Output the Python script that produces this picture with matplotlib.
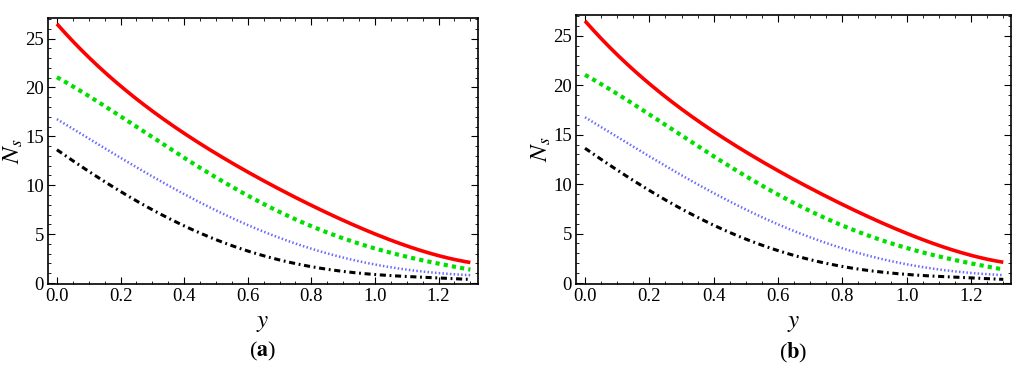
import numpy as np
import matplotlib.pyplot as plt
from matplotlib.ticker import MultipleLocator

plt.rcParams["font.family"] = ["Liberation Serif", "DejaVu Serif"]
plt.rcParams["mathtext.fontset"] = "stix"

# Values (both panels look the same)
y_vals = [0.0, 0.1, 0.2, 0.3, 0.4, 0.5, 0.6, 0.7, 0.8, 0.9, 1.0, 1.1, 1.2, 1.3]
ns_red = [26.5, 23.1, 20.1, 17.6, 15.4, 13.2, 11.3, 9.6, 8.0, 6.4, 5.0, 3.8, 2.8, 2.1]
ns_green = [21.1, 19.0, 17.1, 14.9, 12.9, 10.8, 8.9, 7.2, 5.8, 4.6, 3.6, 2.7, 1.9, 1.4]
ns_blue = [16.8, 14.7, 12.8, 10.9, 9.2, 7.4, 5.9, 4.6, 3.5, 2.6, 1.9, 1.4, 1.0, 0.8]
ns_black = [13.6, 11.4, 9.5, 7.5, 5.7, 4.4, 3.3, 2.4, 1.7, 1.2, 0.9, 0.6, 0.5, 0.4]

panel_labels = ["a", "b"]


def smooth(x, v):
    xs = np.linspace(x[0], x[-1], 300)
    c = np.polyfit(x, v, 4)
    return xs, np.polyval(c, xs)


fig = plt.figure(figsize=(10.24, 3.77), dpi=100)
positions = [[48 / 1024, 93 / 377, 430 / 1024, 266 / 377],
             [576 / 1024, 93 / 377, 435 / 1024, 269 / 377]]

for pos, lab in zip(positions, panel_labels):
    ax = fig.add_axes(pos)
    xs, v = smooth(y_vals, ns_red)
    ax.plot(xs, v, color="#ff0000", lw=2.6, solid_capstyle="butt")
    xs, v = smooth(y_vals, ns_green)
    ax.plot(xs, v, color="#00e000", lw=3.0, linestyle=(0, (1, 1)))
    xs, v = smooth(y_vals, ns_blue)
    ax.plot(xs, v, color="#6a6aff", lw=1.8, linestyle=(0, (0.6, 0.9)))
    xs, v = smooth(y_vals, ns_black)
    ax.plot(xs, v, color="black", lw=2.2, linestyle=(0, (2.0, 1.2, 0.6, 1.2)))

    ax.set_xlim(-0.028, 1.324)
    ax.set_ylim(-0.1, 27.1)
    ax.xaxis.set_minor_locator(MultipleLocator(0.05))
    ax.yaxis.set_major_locator(MultipleLocator(5))
    ax.yaxis.set_minor_locator(MultipleLocator(1))
    ax.set_xticks(np.arange(0, 1.21, 0.2))
    ax.set_xticklabels(["0.0", "0.2", "0.4", "0.6", "0.8", "1.0", "1.2"])
    ax.tick_params(which="both", direction="in", top=True, right=True,
                   labelsize=13.5, pad=3)
    ax.tick_params(which="major", length=5, width=0.8)
    ax.tick_params(which="minor", length=2.5, width=0.6)
    for s in ax.spines.values():
        s.set_linewidth(1.2)
    ax.set_xlabel("$y$", fontsize=18, labelpad=5)
    ax.set_ylabel("$N_s$", fontsize=18, labelpad=0)
    ax.text(0.5, -0.255, r"($\mathbf{" + lab + "}$)", transform=ax.transAxes,
            ha="center", va="center", fontsize=16)

fig.savefig("out.png", dpi=100)
